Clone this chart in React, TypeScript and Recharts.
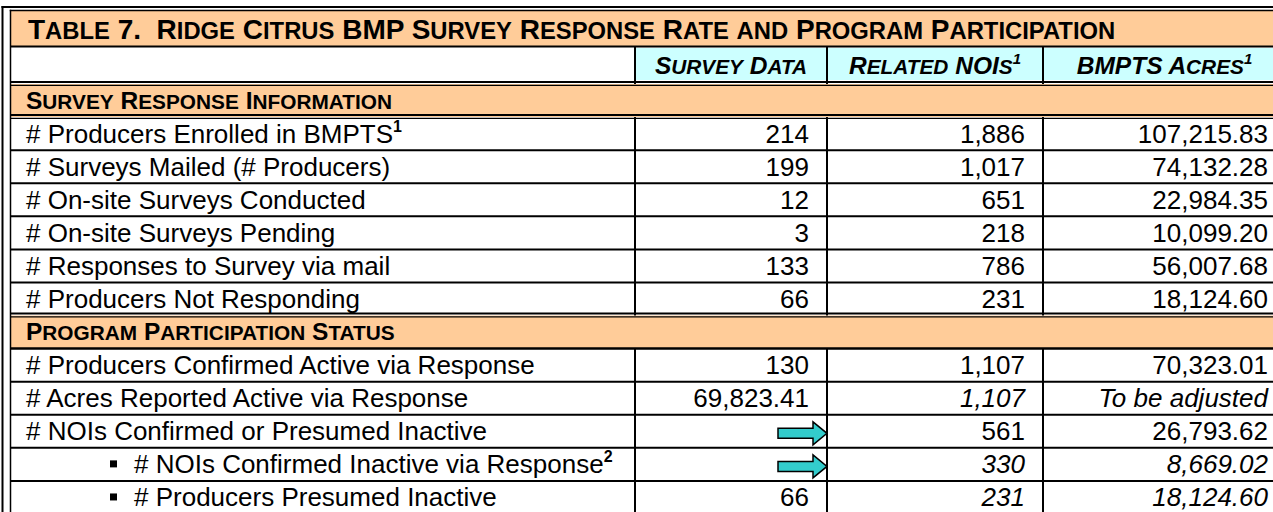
import { ScatterChart, Scatter, XAxis, YAxis, ReferenceArea, ReferenceLine } from "recharts"

// ---- table content ----
const tableTitle = "Table 7.  Ridge Citrus BMP Survey Response Rate and Program Participation"
const columnHeaders = ["Survey Data", "Related NOIs", "BMPTS Acres"]
const headerNotes = ["", "1", "1"]
const sectionTitles = ["Survey Response Information", "Program Participation Status"]

const responseRows = [
  "# Producers Enrolled in BMPTS",
  "# Surveys Mailed (# Producers)",
  "# On-site Surveys Conducted",
  "# On-site Surveys Pending",
  "# Responses to Survey via mail",
  "# Producers Not Responding",
]
const participationRows = [
  "# Producers Confirmed Active via Response",
  "# Acres Reported Active via Response",
  "# NOIs Confirmed or Presumed Inactive",
  "# NOIs Confirmed Inactive via Response",
  "# Producers Presumed Inactive",
]
const rowNotes: Record<string, string> = {
  "# Producers Enrolled in BMPTS": "1",
  "# NOIs Confirmed Inactive via Response": "2",
}
const bulletRows = ["# NOIs Confirmed Inactive via Response", "# Producers Presumed Inactive"]

// "→" = value carried over to the next column
const surveyData: (number | string)[] = [214, 199, 12, 3, 133, 66, 130, 69823.41, "→", "→", 66]
const relatedNois: (number | string)[] = [1886, 1017, 651, 218, 786, 231, 1107, 1107, 561, 330, 231]
const bmptsAcres: (number | string)[] = [
  107215.83, 74132.28, 22984.35, 10099.2, 56007.68, 18124.6,
  70323.01, "To be adjusted", 26793.62, 8669.02, 18124.6,
]

// ---- layout / style ----
const WIDTH = 1286
const HEIGHT = 516
const COL_EDGES = [0, 624, 816, 1032, 1275] // column boundaries in plot units
const PEACH = "#FFCC99"
const CYAN = "#CCFFFF"
const ARROW = "#33CCCC"
const FONT = "'Liberation Sans', Arial, Helvetica, sans-serif"
const SMALL_CAPS = 0.85
const italicRows = [7, 9, 10] // data rows set in italics in the NOIs / acres columns
const doubleRules = [0, 1, 7]
const thickRules = [8]
const bodyBlocks = [
  [1, 7],
  [8, 13],
]

const bodyRows = [
  { text: sectionTitles[0], section: true },
  ...responseRows.map((text) => ({ text, section: false })),
  { text: sectionTitles[1], section: true },
  ...participationRows.map((text) => ({ text, section: false })),
]
const dataRowIndex = bodyRows.map((r, i) => (r.section ? -1 : i)).filter((i) => i >= 0)

const formatValue = (v: number | string, col: number) => {
  if (typeof v !== "number") return v
  const d = col === 2 || !Number.isInteger(v) ? 2 : 0
  return v.toLocaleString("en-US", { minimumFractionDigits: d, maximumFractionDigits: d })
}

const labelPoints = bodyRows.map((r, i) => ({ x: COL_EDGES[0], y: i + 0.5, ...r }))
const valuePoints = [surveyData, relatedNois, bmptsAcres].flatMap((values, c) =>
  values.map((v, k) => ({
    x: COL_EDGES[c + 2],
    y: dataRowIndex[k] + 0.5,
    text: formatValue(v, c),
    arrow: v === "→",
    italic: c > 0 && italicRows.includes(k),
  }))
)

// Word-style small caps: lowercase runs become smaller capitals
function smallCaps(text: string, size: number) {
  const runs = text.match(/[a-z]+|[^a-z]+/g) || []
  return runs.map((run, i) =>
    /[a-z]/.test(run[0]) ? (
      <tspan key={i} fontSize={size * SMALL_CAPS}>
        {run.toUpperCase()}
      </tspan>
    ) : (
      <tspan key={i} fontSize={size}>
        {run}
      </tspan>
    )
  )
}

function Txt({ x, y, anchor = "start", size = 26, bold = false, italic = false, children }: any) {
  return (
    <text
      x={x}
      y={y}
      textAnchor={anchor}
      fontFamily={FONT}
      fontSize={size}
      fontWeight={bold ? 700 : 400}
      fontStyle={italic ? "italic" : "normal"}
      fill="#000"
      style={{ whiteSpace: "pre" }}
    >
      {children}
    </text>
  )
}

function TitleRow(props: any) {
  const { x, y, width } = props.viewBox
  const top = y - 36
  const right = x + width
  return (
    <g>
      <rect x={x} y={top} width={width} height={35} fill={PEACH} />
      <line x1={x - 1} x2={right} y1={y - 0.5} y2={y - 0.5} stroke="#000" strokeWidth={2} />
      <line x1={x - 9.5} x2={right} y1={top - 4} y2={top - 4} stroke="#000" strokeWidth={2} />
      <line x1={x - 1.25} x2={right} y1={top - 0.5} y2={top - 0.5} stroke="#000" strokeWidth={1.5} />
      <line x1={x - 8.5} x2={x - 8.5} y1={top - 5} y2={HEIGHT} stroke="#000" strokeWidth={2} />
      <line x1={x - 0.5} x2={x - 0.5} y1={top - 1.25} y2={HEIGHT} stroke="#000" strokeWidth={1.5} />
      <Txt x={x + 17} y={top + 27.5} size={28} bold>
        {smallCaps(tableTitle, 28)}
      </Txt>
    </g>
  )
}

function HeaderCell({ x, y, index }: any) {
  if (index === 0) return <g />
  const right = x + (COL_EDGES[index + 1] - COL_EDGES[index])
  const top = y - 37
  const note = headerNotes[index - 1]
  return (
    <g>
      <rect x={x + 1} y={top + 1} width={right - x - 2} height={32} fill={CYAN} />
      <line x1={x} x2={x} y1={top} y2={y} stroke="#000" strokeWidth={2} />
      <Txt x={(x + right) / 2} y={y - 10} anchor="middle" size={24.5} bold italic>
        {smallCaps(columnHeaders[index - 1], 24.5)}
        {note && (
          <tspan dy={-10} fontSize={15}>
            {note}
          </tspan>
        )}
      </Txt>
    </g>
  )
}

function LabelCell({ cx, cy, payload }: any) {
  if (payload.section) {
    return (
      <Txt x={cx + 15} y={cy + 8} size={24.5} bold>
        {smallCaps(payload.text, 24.5)}
      </Txt>
    )
  }
  const bullet = bulletRows.includes(payload.text)
  const note = rowNotes[payload.text]
  return (
    <g>
      {bullet && <rect x={cx + 99} y={cy - 4} width={7} height={7} fill="#000" />}
      <Txt x={cx + (bullet ? 123 : 15)} y={cy + 9}>
        {payload.text}
        {note && (
          <tspan dy={-11} fontSize={16} fontWeight={700}>
            {note}
          </tspan>
        )}
      </Txt>
    </g>
  )
}

function ValueCell({ cx, cy, payload }: any) {
  if (payload.arrow) {
    const y = cy + 2
    const pts = [
      [cx - 49, y - 5],
      [cx - 14, y - 5],
      [cx - 14, y - 11.5],
      [cx, y],
      [cx - 14, y + 11.5],
      [cx - 14, y + 5],
      [cx - 49, y + 5],
    ]
    return <polygon points={pts.map((p) => p.join(",")).join(" ")} fill={ARROW} stroke="#000" strokeWidth={1.5} />
  }
  return (
    <Txt x={cx - 18} y={cy + 9} anchor="end" italic={payload.italic}>
      {payload.text}
    </Txt>
  )
}

function DoubleRule({ x1, x2, y1 }: any) {
  return (
    <g>
      <line x1={x1} x2={x2} y1={y1 - 2} y2={y1 - 2} stroke="#000" strokeWidth={2} />
      <line x1={x1} x2={x2} y1={y1 + 1.3} y2={y1 + 1.3} stroke="#000" strokeWidth={1.2} />
    </g>
  )
}

export default function App() {
  return (
    <div
      style={{
        position: "absolute",
        left: 0,
        top: 0,
        width: 1273,
        height: 512,
        overflow: "hidden",
        background: "#ffffff",
      }}
    >
      <ScatterChart width={WIDTH} height={HEIGHT} margin={{ top: 47, right: 0, bottom: 2, left: 11 }}>
        <XAxis
          type="number"
          dataKey="x"
          domain={[0, COL_EDGES[4]]}
          orientation="top"
          height={37}
          ticks={COL_EDGES.slice(0, 4)}
          interval={0}
          tickSize={0}
          tickMargin={0}
          axisLine={false}
          tickLine={false}
          tick={(p: any) => <HeaderCell {...p} />}
          label={{ content: (p: any) => <TitleRow {...p} /> }}
        />
        <YAxis type="number" dataKey="y" domain={[0, bodyRows.length]} reversed hide />

        {bodyRows.map((r, i) =>
          r.section ? (
            <ReferenceArea
              key={`sec-${i}`}
              x1={COL_EDGES[0]}
              x2={COL_EDGES[4]}
              y1={i}
              y2={i + 1}
              fill={PEACH}
              fillOpacity={1}
              strokeOpacity={0}
            />
          ) : null
        )}

        {bodyRows.map((_, i) =>
          doubleRules.includes(i) ? (
            <ReferenceLine key={`rule-${i}`} y={i} shape={(p: any) => <DoubleRule {...p} />} />
          ) : (
            <ReferenceLine
              key={`rule-${i}`}
              y={i}
              stroke="#000"
              strokeWidth={thickRules.includes(i) ? 2.5 : 2}
            />
          )
        )}

        {COL_EDGES.slice(1, 4).flatMap((e) =>
          bodyBlocks.map(([a, b]) => (
            <ReferenceLine
              key={`col-${e}-${a}`}
              segment={[
                { x: e, y: a },
                { x: e, y: b },
              ]}
              stroke="#000"
              strokeWidth={2}
            />
          ))
        )}

        <Scatter data={labelPoints} shape={(p: any) => <LabelCell {...p} />} isAnimationActive={false} />
        <Scatter data={valuePoints} shape={(p: any) => <ValueCell {...p} />} isAnimationActive={false} />
      </ScatterChart>
    </div>
  )
}
